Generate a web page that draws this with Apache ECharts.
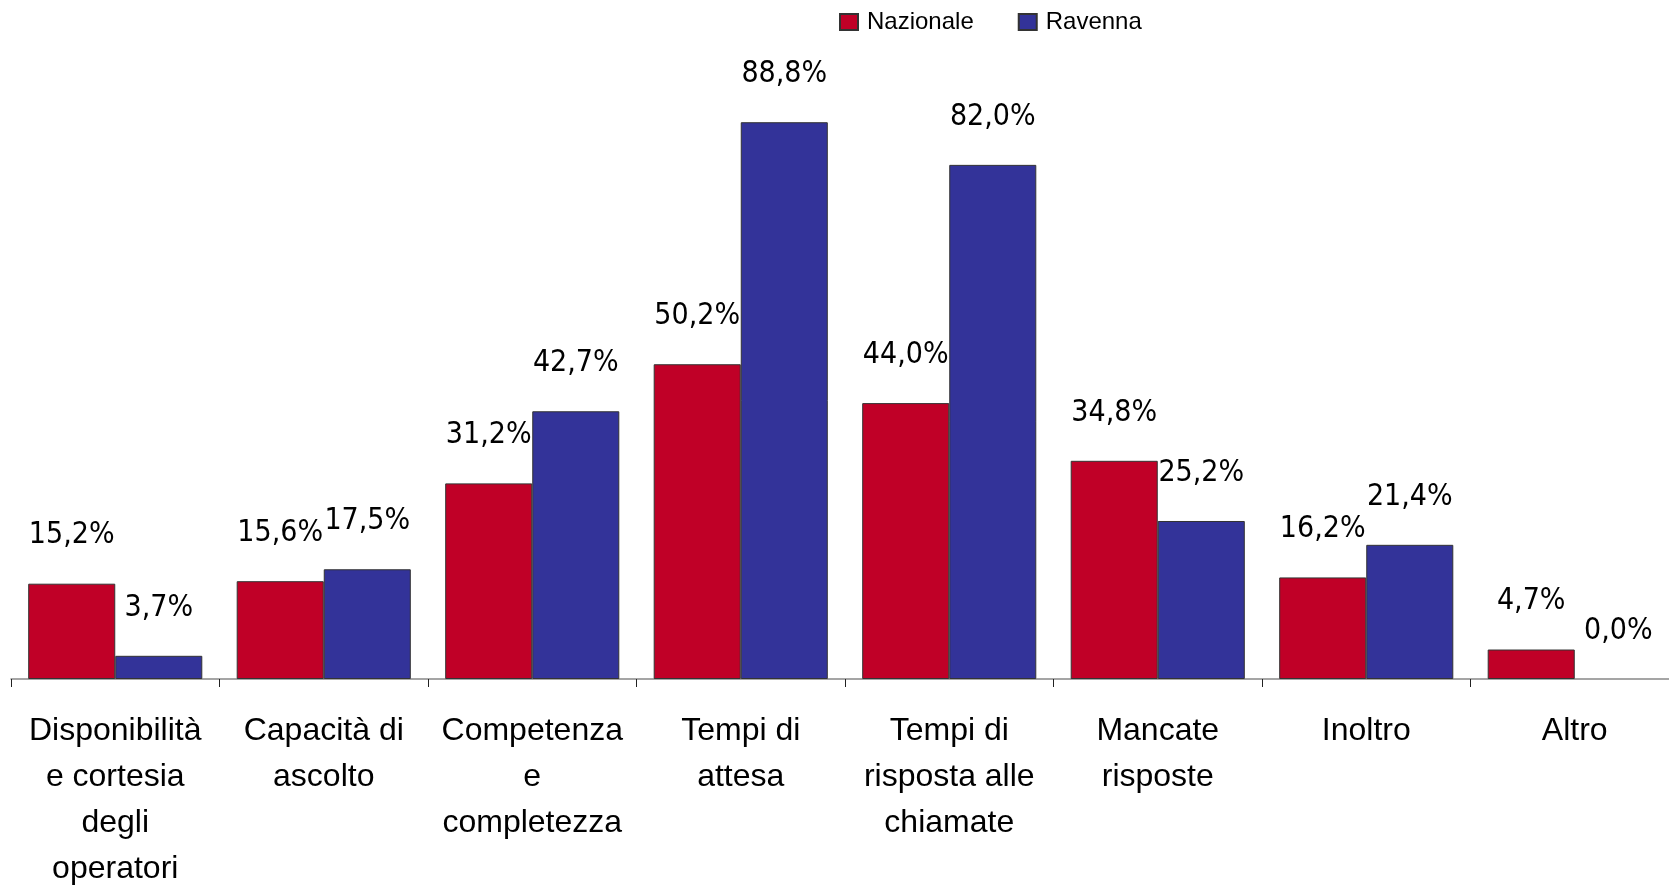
<!DOCTYPE html>
<html><head><meta charset="utf-8">
<script src="https://cdn.jsdelivr.net/npm/echarts@6/dist/echarts.min.js"></script>
<style>html,body{margin:0;padding:0;background:#fff}#c{width:1669px;height:886px}</style>
</head><body><div id="c"></div>
<script>
var categories = ["Disponibilità\ne cortesia\ndegli\noperatori", "Capacità di\nascolto", "Competenza\ne\ncompletezza", "Tempi di\nattesa", "Tempi di\nrisposta alle\nchiamate", "Mancate\nrisposte", "Inoltro", "Altro"];
var nazionale = [15.2, 15.6, 31.2, 50.2, 44.0, 34.8, 16.2, 4.7];
var ravenna = [3.7, 17.5, 42.7, 88.8, 82.0, 25.2, 21.4, 0.0];
var seriesNames = ["Nazionale", "Ravenna"];

var labelFont = "'Liberation Sans Narrow', 'DejaVu Sans Condensed', 'Liberation Sans', sans-serif";
function lbl(p){ return p.value.toFixed(1).replace('.', ',') + '%'; }
function items(arr){ return arr.map(function(v){ return v === 0 ? {value: v, itemStyle: {borderWidth: 0}} : v; }); }
var chart = echarts.init(document.getElementById('c'));
var labelCfg = {show: true, position: 'top', distance: 33, formatter: lbl, fontSize: 30, color: '#000', fontFamily: labelFont};
chart.setOption({
  animation: false,
  legend: {
    top: 5, left: 834, itemGap: 44, itemWidth: 18, itemHeight: 16,
    icon: 'rect',
    textStyle: {fontFamily: "'Liberation Sans', Arial, sans-serif", fontSize: 24, color: '#000', padding: [0, 0, 0, 4]},
    data: seriesNames
  },
  grid: {left: 11, right: -10, top: 52, bottom: 207, outerBoundsMode: 'none', containLabel: false},
  xAxis: {
    type: 'category', data: categories,
    axisLine: {lineStyle: {color: '#888', width: 1.5}},
    axisTick: {show: true, length: 8, lineStyle: {color: '#222'}},
    axisLabel: {interval: 0, margin: 29, fontSize: 32, lineHeight: 46, color: '#000',
      fontFamily: "'Liberation Sans', Arial, sans-serif"}
  },
  yAxis: {type: 'value', min: 0, max: 100, show: false, splitLine: {show: false}},
  series: [
    {name: seriesNames[0], type: 'bar', data: items(nazionale), barGap: '0%', barCategoryGap: '16.5%',
     itemStyle: {color: '#C00027', borderColor: '#333', borderWidth: 1}, label: labelCfg},
    {name: seriesNames[1], type: 'bar', data: items(ravenna), barGap: '0%', barCategoryGap: '16.5%',
     itemStyle: {color: '#333399', borderColor: '#333', borderWidth: 1}, label: labelCfg}
  ]
});
</script></body></html>
